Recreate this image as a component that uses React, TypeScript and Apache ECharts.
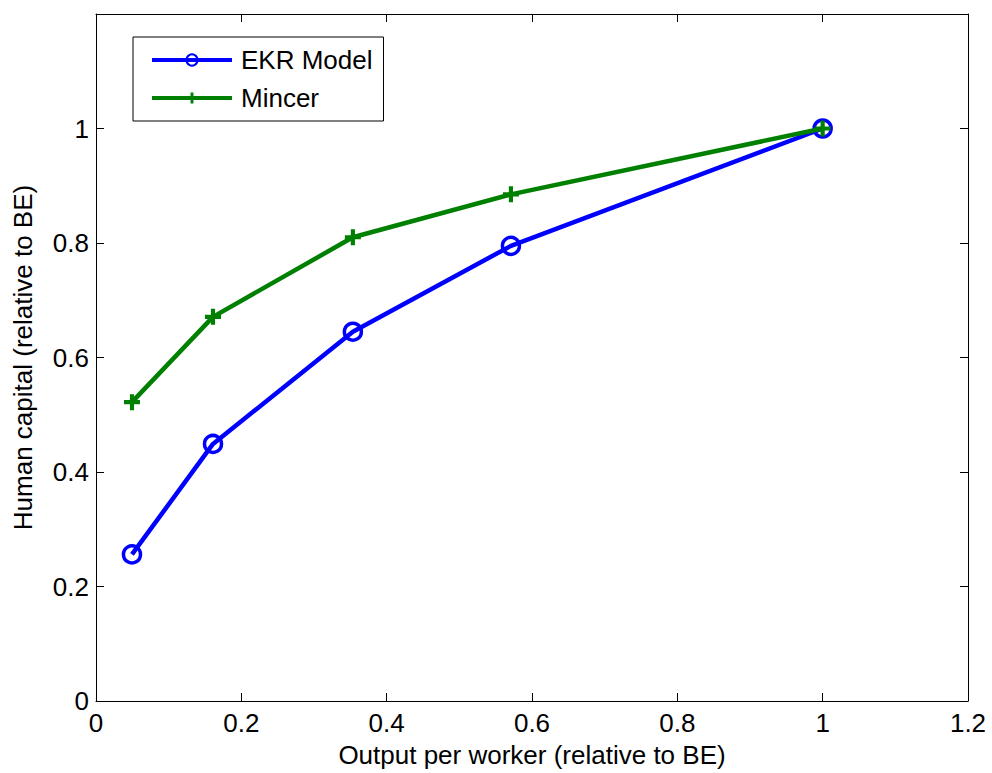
import React, { useEffect, useRef } from "react";
import * as echarts from "echarts";

const xOutput = [0.0495, 0.161, 0.3535, 0.571, 1.0];
const ekrValues = [0.256, 0.449, 0.645, 0.795, 1.0];
const mincerValues = [0.522, 0.671, 0.81, 0.885, 1.0];
const seriesNames = ["EKR Model", "Mincer"];
const xTitle = "Output per worker (relative to BE)";
const yTitle = "Human capital (relative to BE)";

const PLUS = "path://M-1.3,-5H1.3V-1.3H5V1.3H1.3V5H-1.3V1.3H-5V-1.3H-1.3Z";
const FONT = "Liberation Sans, Arial, sans-serif";
const FS = 26;

export default function App() {
  const ref = useRef<HTMLDivElement>(null);
  useEffect(() => {
    if (!ref.current) return;
    const chart = echarts.init(ref.current, undefined, { renderer: "svg" });
    const fmt = (v: number) => String(Math.round(v * 10) / 10);
    const axisCommon = {
      min: 0,
      max: 1.2,
      interval: 0.2,
      splitLine: { show: false },
      axisLine: { show: true, onZero: false, lineStyle: { color: "#000", width: 1 } },
      axisTick: { show: true, inside: true, length: 8, lineStyle: { color: "#000" } },
    };
    chart.setOption({
      animation: false,
      backgroundColor: "#fff",
      textStyle: { fontFamily: FONT },
      grid: { left: 96, right: 24, top: 14, bottom: 69, containLabel: false },
      legend: {
        data: seriesNames,
        orient: "vertical",
        left: 133,
        top: 37,
        padding: [10, 11, 10, 17],
        itemGap: 12,
        itemWidth: 80,
        itemHeight: 14,
        borderColor: "#000",
        borderWidth: 1,
        backgroundColor: "#fff",
        lineStyle: { width: 4 },
        textStyle: { fontSize: FS, color: "#000", fontFamily: FONT, padding: [0, 0, 0, 4] },
      },
      xAxis: [
        {
          type: "value",
          position: "bottom",
          ...axisCommon,
          axisLabel: { fontSize: FS, color: "#000", margin: 9, formatter: fmt },
          name: xTitle,
          nameLocation: "middle",
          nameGap: 41,
          nameTextStyle: { fontSize: FS, color: "#000" },
        },
        {
          type: "value",
          position: "top",
          ...axisCommon,
          axisLabel: { show: false },
        },
      ],
      yAxis: [
        {
          type: "value",
          position: "left",
          ...axisCommon,
          axisLabel: { fontSize: FS, color: "#000", margin: 7, formatter: fmt, showMaxLabel: false },
          name: yTitle,
          nameLocation: "middle",
          nameGap: 60,
          nameTextStyle: { fontSize: FS, color: "#000" },
        },
        {
          type: "value",
          position: "right",
          ...axisCommon,
          axisLabel: { show: false },
        },
      ],
      series: [
        {
          name: seriesNames[0],
          type: "line",
          data: xOutput.map((x, i) => [x, ekrValues[i]]),
          symbol: "circle",
          symbolSize: 17,
          lineStyle: { color: "#0000ff", width: 4.5 },
          itemStyle: { color: "rgba(0,0,0,0)", borderColor: "#0000ff", borderWidth: 3.5 },
          z: 2,
        },
        {
          name: seriesNames[1],
          type: "line",
          data: xOutput.map((x, i) => [x, mincerValues[i]]),
          symbol: PLUS,
          symbolSize: 16,
          lineStyle: { color: "#008000", width: 4.5 },
          itemStyle: { color: "#008000", borderWidth: 0 },
          z: 3,
        },
      ],
    });
    return () => chart.dispose();
  }, []);
  return <div ref={ref} style={{ width: 992, height: 773, position: "absolute", left: 0, top: 0 }} />;
}
